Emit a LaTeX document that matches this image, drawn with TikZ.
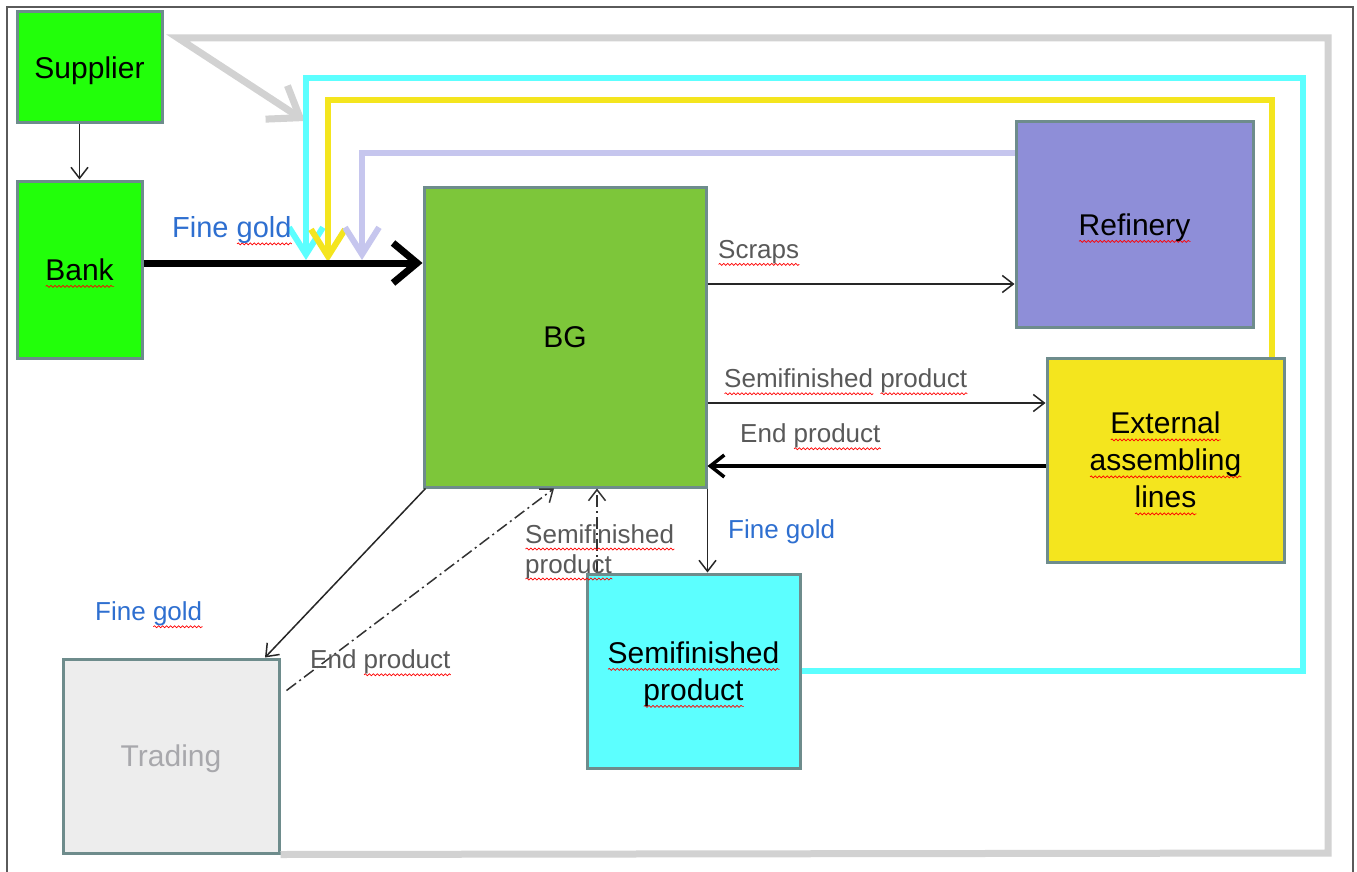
\documentclass[tikz,border=0pt]{standalone}
\usepackage{fontspec}
\setmainfont{Liberation Sans}
\usetikzlibrary{arrows.meta,calc,decorations.pathmorphing}
\definecolor{bright}{HTML}{22FF0A}
\definecolor{bggreen}{HTML}{7DC63A}
\definecolor{refcol}{HTML}{8E8ED8}
\definecolor{extcol}{HTML}{F4E51E}
\definecolor{semicol}{HTML}{5CFFFF}
\definecolor{tradcol}{HTML}{EDEDED}
\definecolor{boxedge}{HTML}{6E8C8C}
\definecolor{lav}{HTML}{C6C6EE}
\definecolor{lgray}{HTML}{D2D2D2}
\definecolor{lblgray}{HTML}{595959}
\definecolor{lblblue}{HTML}{2E6FD0}
\definecolor{frame}{HTML}{5A5A5A}
\definecolor{tradtext}{HTML}{A8A8AC}
\newdimen\sqwidth
\newsavebox\sqbox
\newcommand\sq[1]{\sbox\sqbox{#1}\sqwidth=\wd\sqbox\leavevmode\rlap{\raisebox{-6pt}{\tikz[x=1pt,y=1pt,baseline=0pt]\draw[red,line width=0.7pt,solid,decorate,decoration={snake,amplitude=1pt,segment length=4pt}] (0,0) -- (\sqwidth,0);}}\usebox\sqbox}
\tikzset{
  box/.style={draw=boxedge, line width=3pt, inner sep=0pt, align=center, text depth=0pt,
    font=\fontsize{30}{37}\selectfont},
  thinarrow/.style={draw=black!85, line width=1.5pt, -{Straight Barb[length=11pt,width=17pt]}},
  thickarrow/.style={draw=black, line width=7pt, -{Straight Barb[length=24pt,width=40pt]}},
  midarrow/.style={draw=black, line width=3.5pt, -{Straight Barb[length=14pt,width=22pt]}},
  dashdotarrow/.style={draw=black!80, line width=1.5pt, dash pattern=on 12pt off 4pt on 2pt off 4pt,
    -{Straight Barb[length=11pt,width=17pt]}},
  flow/.style={line width=6pt, -{Straight Barb[length=27pt,width=34pt]}},
  lbl/.style={text=lblgray, font=\fontsize{26}{30}\selectfont, inner sep=0pt, align=left},
  blbl/.style={text=lblblue, font=\fontsize{26}{30}\selectfont, inner sep=0pt},
}
\begin{document}
\begin{tikzpicture}[x=1pt,y=-1pt]
\useasboundingbox (0,0) rectangle (1357,872);
\fill[white] (0,0) rectangle (1357,872);
\draw[frame, line width=2pt] (7,900) -- (7,7) -- (1353,7) -- (1353,900);

% boxes
\node[box, fill=bright, minimum width=145pt, minimum height=111pt] (sup) at (89.5,67.5) {Supplier};
\node[box, fill=bright, minimum width=125pt, minimum height=177pt] (bank) at (79.5,269.5) {\sq{Bank}};
\node[box, fill=bggreen, minimum width=282pt, minimum height=300pt] (bg) at (565,337) {BG};
\node[box, fill=refcol, minimum width=237pt, minimum height=205pt] (ref) at (1134.5,224.5) {\sq{Refinery}};
\node[box, fill=extcol, minimum width=237pt, minimum height=204pt] (ext) at (1165.5,460) {\sq{External}\\\sq{assembling}\\\sq{lines}};
\node[box, fill=semicol, minimum width=213pt, minimum height=194pt] (semi) at (693.5,671) {\sq{Semifinished}\\\sq{product}};
\node[box, fill=tradcol, text=tradtext, minimum width=216pt, minimum height=194pt] (trad) at (171,756) {Trading};

% free ends of the feedback flows
\coordinate (gtip) at (305,121);
\coordinate (ctip) at (306,260);
\coordinate (ytip) at (328,262);
\coordinate (ltip) at (362,260);

% feedback flows
\draw[flow, lgray, line width=7pt, -{Straight Barb[length=28pt,width=40pt]}] (trad.south east) -- (1328,853) -- (1328,38) -- (178,38) -- (gtip);
\draw[flow, semicol] (semi.east) -| (1303,78) -| (ctip);
\draw[flow, extcol] (ext.north -| {(1272,0)}) |- (328,100) -- (ytip);
\draw[flow, lav] (ref.west |- {(0,153)}) -| (ltip);

% connectors
\draw[thinarrow] (bank.north |- sup.south) -- (bank.north);
\draw[thickarrow] (bank.east |- {(0,263)}) -- (bg.west |- {(0,263)});
\draw[thinarrow] (bg.east |- {(0,284)}) -- (ref.west |- {(0,284)});
\draw[thinarrow] (bg.east |- {(0,403)}) -- (ext.west |- {(0,403)});
\draw[midarrow] (ext.west |- {(0,466)}) -- (bg.east |- {(0,466)});
\draw[thinarrow] (bg.south east) -- (bg.south east |- semi.north);
\draw[dashdotarrow] (semi.north -| {(597,0)}) -- (bg.south -| {(597,0)});
\draw[thinarrow] ($(bg.south west)+(3,0)$) -- (trad.north -| {(265,0)});
\draw[dashdotarrow] ($(trad.north east)+(6,33)$) -- (bg.south -| {(554,0)});

% labels
\node[blbl, anchor=west, font=\fontsize{29}{32}\selectfont] (l1) at (172,231) {Fine \sq{gold}};
\node[lbl, anchor=west] (l2) at (718,253) {\sq{Scraps}};
\node[lbl, anchor=west] (l3) at (724,382) {\sq{Semifinished} \sq{product}};
\node[lbl, anchor=west] (l4) at (740,437) {End \sq{product}};
\node[blbl, anchor=west] (l5) at (728,532) {Fine gold};
\node[blbl, anchor=west] (l6) at (95,615) {Fine \sq{gold}};
\node[lbl, anchor=west] (l7) at (310,663) {End \sq{product}};
\node[lbl, anchor=north west] (l8) at (525,524) {\sq{Semifinished}\\\sq{product}};
\end{tikzpicture}
\end{document}
